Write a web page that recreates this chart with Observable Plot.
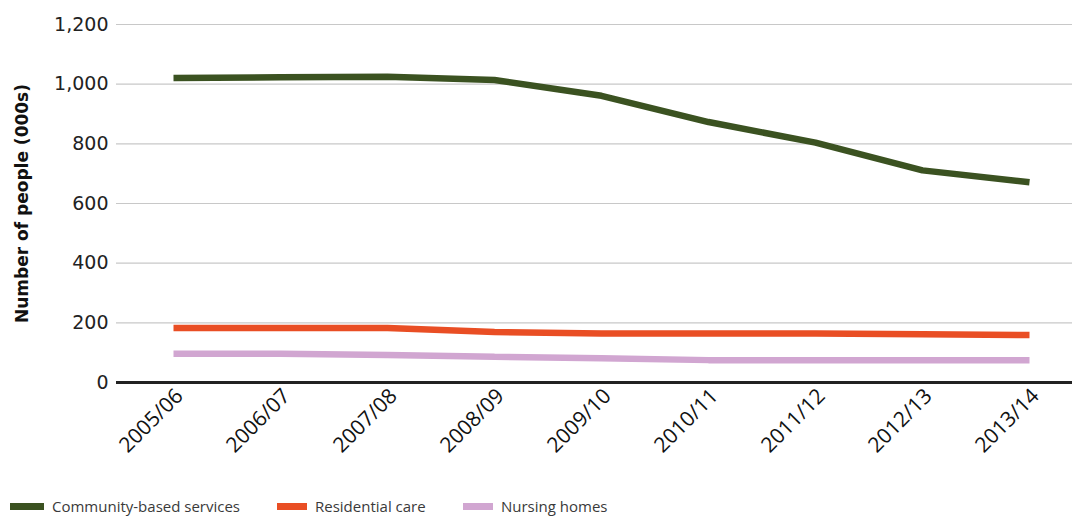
<!DOCTYPE html>
<html>
<head>
<meta charset="utf-8">
<script src="https://cdn.jsdelivr.net/npm/d3@7"></script>
<script src="https://cdn.jsdelivr.net/npm/@observablehq/plot@0.6"></script>
<style>
  html, body { margin: 0; padding: 0; background: #fff; }
  #chart { width: 1072px; height: 517px; overflow: hidden; position: relative; }
  .legend { position: absolute; top: 497px; left: 0; height: 20px; font-family: "Open Sans", sans-serif; font-size: 15px; line-height: 18px; color: #3a3a3a; white-space: nowrap; }
  .item { position: absolute; top: 0; display: flex; align-items: center; }
  .sw { display: inline-block; width: 32px; height: 7px; margin-right: 8px; }
</style>
</head>
<body>
<div id="chart"></div>
<script>
const years = ["2005/06","2006/07","2007/08","2008/09","2009/10","2010/11","2011/12","2012/13","2013/14"];
const seriesNames = ["Community-based services","Residential care","Nursing homes"];
const community = [1021, 1023, 1025, 1014, 961, 873, 804, 711, 671];
const residential = [183, 183, 183, 169, 164, 164, 164, 162, 159];
const nursing = [96, 96, 92, 86, 81, 75, 75, 75, 75];
const colors = ["#3b5221", "#e94e24", "#d1a6d1"];
const yTicks = [0, 200, 400, 600, 800, 1000, 1200];

const rows = [];
[community, residential, nursing].forEach((arr, s) => {
  arr.forEach((v, i) => rows.push({year: years[i], series: seriesNames[s], value: v}));
});

const W = 1072, H = 495;
const chart = Plot.plot({
  width: W,
  height: H,
  marginTop: 24,
  marginBottom: H - 382,
  marginLeft: 116,
  marginRight: 0,
  style: {background: "#fff", overflow: "visible"},
  x: {type: "point", domain: years, range: [172, 1029], padding: 0},
  y: {domain: [0, 1200], range: [382, 24]},
  color: {domain: seriesNames, range: colors},
  marks: [
    Plot.ruleY(yTicks.filter(d => d > 0), {stroke: "#c8c8c8", strokeWidth: 1.2}),
    Plot.line(rows, {x: "year", y: "value", z: "series", stroke: "series", strokeWidth: 6.5, strokeLinejoin: "miter", strokeLinecap: "butt"}),
    Plot.ruleY([0], {stroke: "#222", strokeWidth: 3}),
    Plot.axisY({ticks: yTicks, tickSize: 0, tickPadding: 8, tickFormat: d => d3.format(",")(d), fontSize: 19, fontFamily: "DejaVu Sans", label: null, fill: "#222"}),
    Plot.axisX({tickSize: 0, tickPadding: 10, dx: 6, tickRotate: -45, fontSize: 21, fontFamily: "Open Sans", label: null, fill: "#111"}),
    Plot.text(["Number of people (000s)"], {frameAnchor: "left", textAnchor: "middle", dx: -94, rotate: -90, fontSize: 17, fontWeight: "bold", fontFamily: "DejaVu Sans", fill: "#111"})
  ]
});
const host = document.getElementById("chart");
host.appendChild(chart);

const legend = document.createElement("div");
legend.className = "legend";
const lefts = [10, 277, 463];
seriesNames.forEach((name, i) => {
  const it = document.createElement("div");
  it.className = "item";
  it.style.left = lefts[i] + "px";
  const sw = document.createElement("span");
  sw.className = "sw";
  sw.style.background = colors[i];
  sw.style.width = (i === 0 ? 34 : 30) + "px";
  const tx = document.createElement("span");
  tx.textContent = name;
  it.appendChild(sw); it.appendChild(tx);
  legend.appendChild(it);
});
host.appendChild(legend);
</script>
</body>
</html>
